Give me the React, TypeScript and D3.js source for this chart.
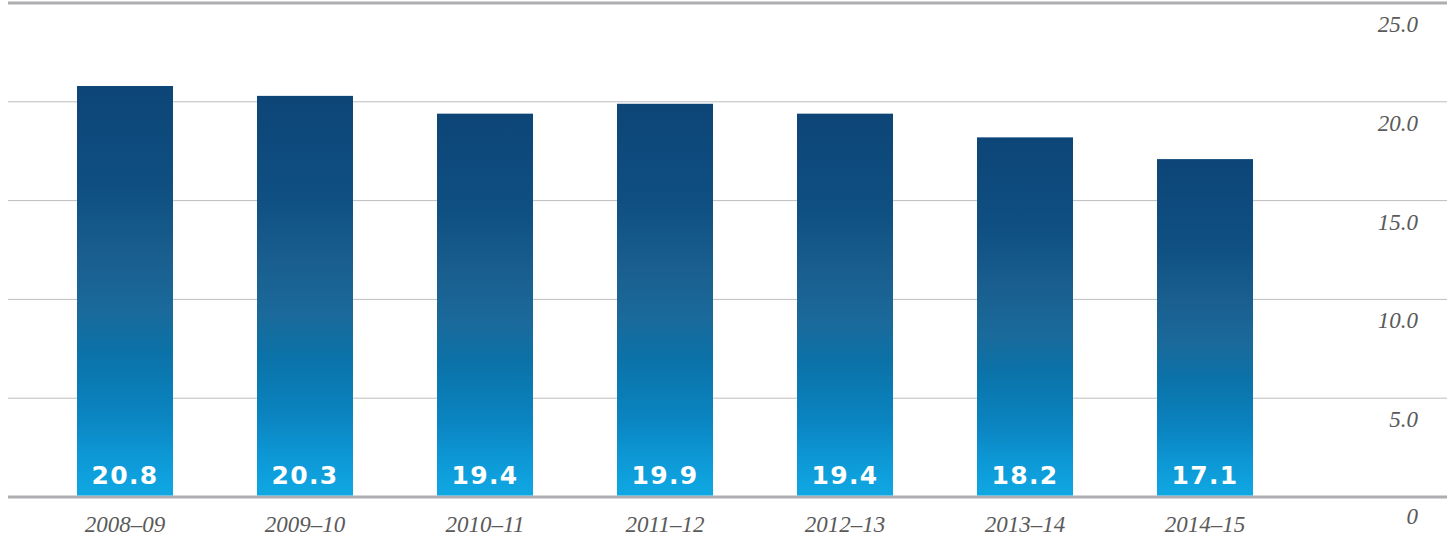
import React from "react";
import * as d3 from "d3";

const categories = ["2008–09", "2009–10", "2010–11", "2011–12", "2012–13", "2013–14", "2014–15"];
const values = [20.8, 20.3, 19.4, 19.9, 19.4, 18.2, 17.1];
const yTicks = [0, 5, 10, 15, 20, 25];

const W = 1454;
const H = 539;

export default function App() {
  const x0 = 8;
  const x1 = 1447;
  const yScale = d3.scaleLinear().domain([0, 25]).range([497, 3]);
  const xScale = d3
    .scaleBand<string>()
    .domain([...categories, "__axis"])
    .range([35, 35 + 180 * 8])
    .paddingInner(0.4667)
    .paddingOuter(0.2333);

  return (
    <svg
      width={W}
      height={H}
      style={{ display: "block", position: "absolute", left: 0, top: 0 }}
    >
      <defs>
        <linearGradient id="barGrad" x1="0" y1="0" x2="0" y2="1">
          <stop offset="0" stopColor="#0d4577" />
          <stop offset="0.25" stopColor="#0f4f82" />
          <stop offset="0.42" stopColor="#195f8f" />
          <stop offset="0.55" stopColor="#1a6a9b" />
          <stop offset="0.65" stopColor="#0b72a8" />
          <stop offset="0.8" stopColor="#0a84c0" />
          <stop offset="0.9" stopColor="#0d97d5" />
          <stop offset="1" stopColor="#0fa8e3" />
        </linearGradient>
      </defs>
      {yTicks.map((t) => {
        const y = yScale(t);
        const thick = t === 0 || t === 25;
        return (
          <g key={t}>
            <line
              x1={x0}
              x2={x1}
              y1={y}
              y2={y}
              stroke={thick ? "#adadb2" : "#bdbdbd"}
              strokeWidth={thick ? 3 : 1}
            />
            <text
              x={1418}
              y={y + (t === 0 ? 27 : 29)}
              textAnchor="end"
              fontFamily="'Liberation Serif', 'DejaVu Serif', serif"
              fontStyle="italic"
              fontSize={23}
              fill="#5a5a5a"
            >
              {t === 0 ? "0" : t.toFixed(1)}
            </text>
          </g>
        );
      })}
      {categories.map((c, i) => {
        const bx = xScale(c)!;
        const bw = xScale.bandwidth();
        const top = yScale(values[i]);
        const bottom = yScale(0) - 1.5;
        return (
          <g key={c}>
            <rect x={bx} y={top} width={bw} height={bottom - top} fill="url(#barGrad)" />
            <text
              x={bx + bw / 2}
              y={bottom - 11.5}
              textAnchor="middle"
              fontFamily="'DejaVu Sans', sans-serif"
              fontWeight="bold"
              fontSize={25}
              letterSpacing={1.3}
              fill="#ffffff"
            >
              {values[i].toFixed(1)}
            </text>
            <text
              x={bx + bw / 2}
              y={yScale(0) + 35}
              textAnchor="middle"
              fontFamily="'Liberation Serif', 'DejaVu Serif', serif"
              fontStyle="italic"
              fontSize={23}
              fill="#5a5a5a"
            >
              {c}
            </text>
          </g>
        );
      })}
    </svg>
  );
}
